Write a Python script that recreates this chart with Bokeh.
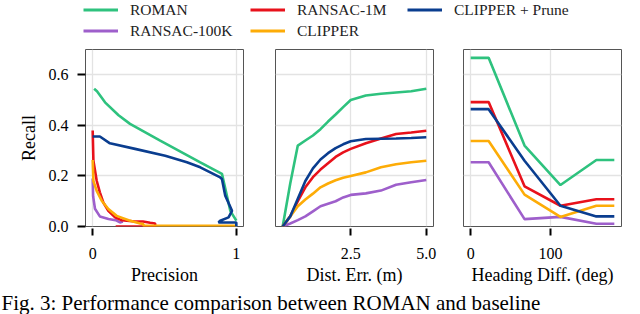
from bokeh.plotting import figure
from bokeh.layouts import column, row
from bokeh.models import FixedTicker, PrintfTickFormatter, Legend, LegendItem, Label
from bokeh.embed import file_html
from bokeh.resources import INLINE

FONT = "Liberation Serif"

SERIES = ["ROMAN", "RANSAC-100K", "RANSAC-1M", "CLIPPER", "CLIPPER + Prune"]
COLORS = ["#2ec27e", "#9e5fcb", "#e8111b", "#fdac07", "#0a3d8f"]

# ---- Panel 1: precision / recall curves ----
p1_prec = {
    "ROMAN": [0.01, 0.03, 0.086, 0.18, 0.26, 0.47, 0.749, 0.90, 0.958, 1.0],
    "RANSAC-100K": [0.0, 0.003, 0.016, 0.05, 0.11, 0.16, 0.19, 0.21],
    "RANSAC-1M": [0.0, 0.005, 0.028, 0.05, 0.074, 0.109, 0.156, 0.2, 0.295, 0.35, 0.40, 0.435, 0.435, 0.16],
    "CLIPPER": [0.0, 0.005, 0.028, 0.063, 0.109, 0.167, 0.25, 0.33, 0.353, 0.353, 1.0],
    "CLIPPER + Prune": [0.0, 0.05, 0.12, 0.295, 0.505, 0.656, 0.749, 0.888, 0.9, 0.923, 0.97, 0.946, 0.888, 0.876, 1.0, 1.0],
}
p1_recall = {
    "ROMAN": [0.545, 0.535, 0.491, 0.44, 0.406, 0.34, 0.254, 0.208, 0.062, 0.023],
    "RANSAC-100K": [0.19, 0.12, 0.07, 0.04, 0.03, 0.025, 0.016, 0.02],
    "RANSAC-1M": [0.38, 0.26, 0.181, 0.135, 0.095, 0.062, 0.036, 0.025, 0.02, 0.02, 0.015, 0.012, 0.0, 0.0],
    "CLIPPER": [0.263, 0.18, 0.141, 0.102, 0.069, 0.042, 0.025, 0.012, 0.01, 0.003, 0.003],
    "CLIPPER + Prune": [0.356, 0.356, 0.329, 0.307, 0.28, 0.254, 0.234, 0.194, 0.188, 0.122, 0.062, 0.036, 0.023, 0.016, 0.016, 0.0],
}

# ---- Panel 2: recall vs distance error ----
dist_err = [0.25, 0.5, 0.75, 1.0, 1.25, 1.5, 1.75, 2.0, 2.25, 2.5, 3.0, 3.5, 4.0, 4.5, 5.0]
p2_recall = {
    "ROMAN": [0, 0.17, 0.32, 0.34, 0.36, 0.385, 0.415, 0.443, 0.472, 0.50, 0.518, 0.525, 0.53, 0.535, 0.545],
    "RANSAC-100K": [0, 0.012, 0.025, 0.04, 0.06, 0.08, 0.09, 0.10, 0.115, 0.125, 0.131, 0.142, 0.165, 0.175, 0.184],
    "RANSAC-1M": [0, 0.04, 0.10, 0.155, 0.195, 0.225, 0.25, 0.275, 0.293, 0.307, 0.329, 0.348, 0.366, 0.372, 0.379],
    "CLIPPER": [0, 0.04, 0.08, 0.107, 0.13, 0.155, 0.17, 0.183, 0.193, 0.2, 0.214, 0.234, 0.246, 0.254, 0.26],
    "CLIPPER + Prune": [0, 0.04, 0.11, 0.18, 0.23, 0.265, 0.29, 0.31, 0.325, 0.337, 0.346, 0.347, 0.348, 0.35, 0.353],
}

# ---- Panel 3: recall vs heading difference ----
heading = [0, 22.5, 67.5, 112.5, 157.5, 180]
p3_recall = {
    "ROMAN": [0.667, 0.667, 0.320, 0.164, 0.263, 0.263],
    "RANSAC-100K": [0.254, 0.254, 0.029, 0.038, 0.011, 0.011],
    "RANSAC-1M": [0.492, 0.492, 0.159, 0.082, 0.108, 0.108],
    "CLIPPER": [0.338, 0.338, 0.126, 0.038, 0.082, 0.082],
    "CLIPPER + Prune": [0.464, 0.464, 0.26, 0.082, 0.040, 0.040],
}

y_ticks = [0.0, 0.2, 0.4, 0.6]
x1_ticks = [0, 1]
x2_ticks = [2.5, 5.0]
x3_ticks = [0, 100]

CAPTION = "Fig. 3: Performance comparison between ROMAN and baseline"

LEG_H = 47
BOTTOM = 64
CAP_H = 24


def make_panel(left, right, xr, xticks, xlabel, xfmt, show_y):
    p = figure(frame_width=158, frame_height=177, x_range=xr, y_range=(0, 0.7),
               toolbar_location=None, output_backend="svg",
               min_border_left=left, min_border_right=right,
               min_border_top=2, min_border_bottom=BOTTOM)
    p.outline_line_color = "#555555"
    p.outline_line_width = 1
    xa = p.xaxis[0]
    xa.ticker = FixedTicker(ticks=xticks)
    p.xgrid[0].ticker = FixedTicker(ticks=xticks)
    if xfmt:
        xa.formatter = PrintfTickFormatter(format=xfmt)
    xa.axis_line_color = None
    xa.major_tick_line_color = "black"
    xa.major_tick_line_width = 2
    xa.major_tick_in = -2
    xa.major_tick_out = 9
    xa.minor_tick_line_color = None
    xa.major_label_text_font = FONT
    xa.major_label_text_font_size = "16px"
    xa.major_label_text_color = "black"
    xa.major_label_standoff = 12
    xa.axis_label = xlabel
    xa.axis_label_text_font = FONT
    xa.axis_label_text_font_size = "18px"
    xa.axis_label_text_font_style = "normal"
    xa.axis_label_text_color = "black"
    xa.axis_label_standoff = 3
    ya = p.yaxis[0]
    ya.ticker = FixedTicker(ticks=y_ticks)
    p.ygrid[0].ticker = FixedTicker(ticks=y_ticks)
    if show_y:
        ya.formatter = PrintfTickFormatter(format="%.1f")
        ya.axis_line_color = None
        ya.major_tick_line_color = "black"
        ya.major_tick_line_width = 2
        ya.major_tick_in = 0
        ya.major_tick_out = 8
        ya.minor_tick_line_color = None
        ya.major_label_text_font = FONT
        ya.major_label_text_font_size = "16px"
        ya.major_label_text_color = "black"
        ya.major_label_standoff = 9
        ya.axis_label = "Recall"
        ya.axis_label_text_font = FONT
        ya.axis_label_text_font_size = "18px"
        ya.axis_label_text_font_style = "normal"
        ya.axis_label_text_color = "black"
        ya.axis_label_standoff = 7
    else:
        ya.visible = False
    for g in (p.xgrid[0], p.ygrid[0]):
        g.grid_line_color = "#e3e3e3"
        g.grid_line_width = 1.3
    return p


p1 = make_panel(85, 16, (-0.05, 1.05), x1_ticks, "Precision", None, True)
p2 = make_panel(16, 15, (0.0125, 5.2375), x2_ticks, "Dist. Err. (m)", "%.1f", False)
p3 = make_panel(15, 3, (-9, 189), x3_ticks, "Heading Diff. (deg)", None, False)

for name, color in zip(SERIES, COLORS):
    p1.line(p1_prec[name], p1_recall[name], line_color=color, line_width=2.6)
    p2.line(dist_err, p2_recall[name], line_color=color, line_width=2.6)
    p3.line(heading, p3_recall[name], line_color=color, line_width=2.6)

# ---- Legend strip (shared legend above the three panels) ----
p0 = figure(width=624, height=LEG_H, x_range=(0, 1), y_range=(0, 1),
            toolbar_location=None, output_backend="svg",
            x_axis_location=None, y_axis_location=None, min_border=0)
p0.grid.visible = False
p0.outline_line_color = None
rend = {}
for name, color in zip(SERIES, COLORS):
    r = p0.line(heading, p3_recall[name], line_color=color, line_width=3.2)
    r.visible = False
    rend[name] = r

legend_cols = [(["ROMAN", "RANSAC-100K"], (83, 6)),
               (["RANSAC-1M", "CLIPPER"], (250, 6)),
               (["CLIPPER + Prune"], (407, 27))]
for names, loc in legend_cols:
    leg = Legend(items=[LegendItem(label=n, renderers=[rend[n]]) for n in names],
                 location=loc, orientation="vertical",
                 glyph_width=35, glyph_height=21, label_height=21,
                 label_standoff=12, spacing=0, padding=0, margin=0,
                 border_line_color=None, background_fill_alpha=0,
                 inactive_fill_alpha=0,
                 label_text_font=FONT, label_text_font_size="15.5px",
                 label_text_color="#222222")
    p0.add_layout(leg)

# ---- Caption strip ----
p4 = figure(width=624, height=CAP_H, x_range=(0, 1), y_range=(0, 1),
            toolbar_location=None, output_backend="svg",
            x_axis_location=None, y_axis_location=None, min_border=0)
p4.grid.visible = False
p4.outline_line_color = None
p4.add_layout(Label(x=1, y=CAP_H / 2, x_units="screen", y_units="screen",
                    text=CAPTION, text_baseline="middle", text_font=FONT,
                    text_font_size="21px", text_color="black"))

layout = column(p0, row(p1, p2, p3), p4)

open("out.html", "w").write(file_html(layout, INLINE))
